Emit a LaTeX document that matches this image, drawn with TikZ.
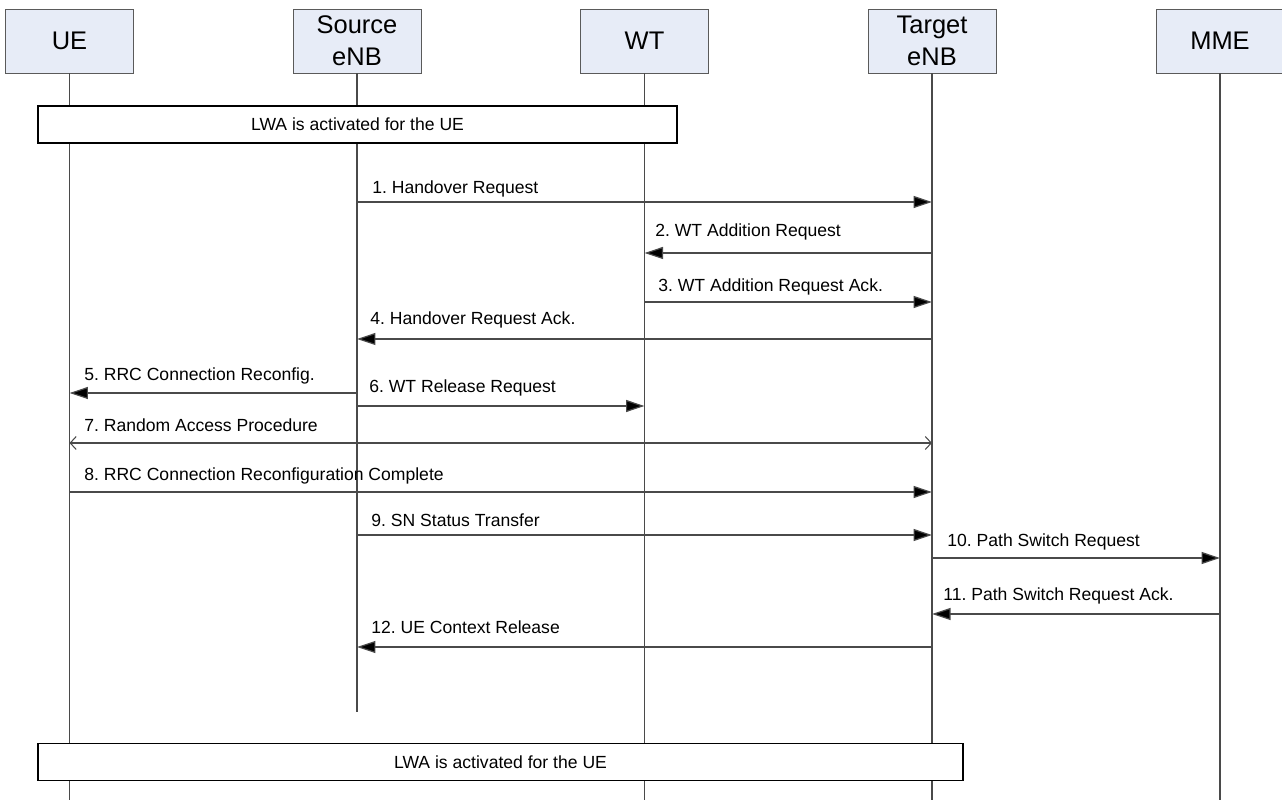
\documentclass[tikz,border=0pt]{standalone}
\usepackage{fontspec}
\setmainfont{Liberation Sans}
\usepackage{tikz}
\usetikzlibrary{arrows.meta, positioning}
\definecolor{HeadFill}{HTML}{E7ECF7}
\definecolor{LineGrey}{HTML}{4A4A4A}
\definecolor{BoxGrey}{HTML}{5A5A5A}
\frenchspacing

\begin{document}
\begin{tikzpicture}[
      x=0.02cm, y=-0.02cm,
      actor/.style={draw=BoxGrey, fill=HeadFill, minimum width=2.56cm, minimum height=1.28cm, inner sep=0pt, align=center, font=\fontsize{14.5}{18}\selectfont},
      lwa/.style={draw=black, line width=0.7pt, fill=white, minimum height=0.74cm, inner sep=0pt, font=\fontsize{10}{12}\selectfont},
      life/.style={draw=LineGrey, line width=0.6pt},
      msg/.style={draw=LineGrey, line width=0.7pt, -{Triangle[length=0.37cm, width=0.24cm, fill=black]}},
      lbl/.style={anchor=base west, inner sep=0pt, font=\fontsize{10}{12}\selectfont}
    ]
      \useasboundingbox (0,0) rectangle (1282,800);
      % entities
      \node[actor] (ue) at (69.5,41) {UE};
      \node[actor] (senb) at (357,41) {Source\\eNB};
      \node[actor] (wt) at (644.5,41) {WT};
      \node[actor] (tenb) at (932,41) {Target\\eNB};
      \node[actor] (mme) at (1220,41) {MME};
      % lifelines
      \draw[life] (ue) -- (ue |- 0,800);
      \draw[life] (senb) -- (senb |- 0,712);
      \draw[life] (wt) -- (wt |- 0,800);
      \draw[life] (tenb) -- (tenb |- 0,800);
      \draw[life] (mme) -- (mme |- 0,800);
      % LWA state
      \node[lwa, minimum width=12.78cm] (lwa1) at (357.5,124.5) {LWA is activated for the UE};
      % messages
      \draw[msg] (senb |- 0,202) -- (tenb |- 0,202);
      \node[lbl] (m1) at (372,194) {1. Handover Request};
      \draw[msg] (tenb |- 0,253) -- (wt |- 0,253);
      \node[lbl] (m2) at (655,237) {2. WT Addition Request};
      \draw[msg] (wt |- 0,302) -- (tenb |- 0,302);
      \node[lbl] (m3) at (658,292) {3. WT Addition Request Ack.};
      \draw[msg] (tenb |- 0,339) -- (senb |- 0,339);
      \node[lbl] (m4) at (370,325) {4. Handover Request Ack.};
      \draw[msg] (senb |- 0,393) -- (ue |- 0,393);
      \node[lbl] (m5) at (84,381) {5. RRC Connection Reconfig.};
      \draw[msg] (senb |- 0,406) -- (wt |- 0,406);
      \node[lbl] (m6) at (369,393) {6. WT Release Request};
      \draw[draw=LineGrey, line width=0.6pt, {Straight Barb[length=0.12cm, width=0.26cm]}-{Straight Barb[length=0.12cm, width=0.26cm]}] (ue |- 0,443) -- (tenb |- 0,443);
      \node[lbl] (m7) at (84,432) {7. Random Access Procedure};
      \draw[msg] (ue |- 0,492) -- (tenb |- 0,492);
      \node[lbl] (m8) at (84,481) {8. RRC Connection Reconfiguration Complete};
      \draw[msg] (senb |- 0,535) -- (tenb |- 0,535);
      \node[lbl] (m9) at (371,527) {9. SN Status Transfer};
      \draw[msg] (tenb |- 0,558) -- (mme |- 0,558);
      \node[lbl] (m10) at (947,546) {10. Path Switch Request};
      \draw[msg] (mme |- 0,614) -- (tenb |- 0,614);
      \node[lbl] (m11) at (943,601) {11. Path Switch Request Ack.};
      \draw[msg] (tenb |- 0,647) -- (senb |- 0,647);
      \node[lbl] (m12) at (371,633) {12. UE Context Release};
      % LWA state after handover
      \node[lwa, minimum width=18.5cm] (lwa2) at (500.5,762) {LWA is activated for the UE};
\end{tikzpicture}
\end{document}
